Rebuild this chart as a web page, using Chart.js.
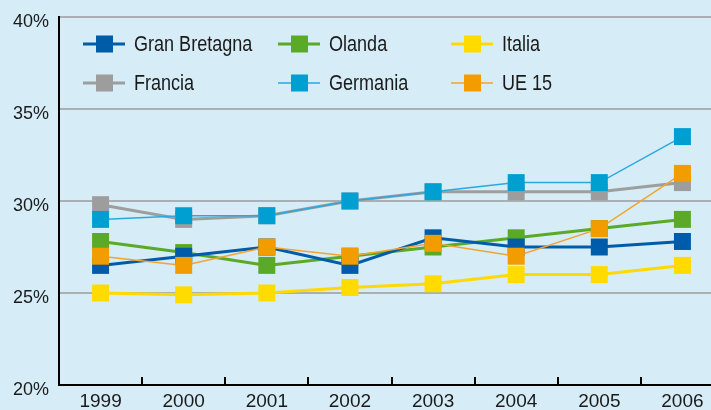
<!DOCTYPE html>
<html>
<head>
<meta charset="utf-8">
<script src="https://cdn.jsdelivr.net/npm/chart.js@4"></script>
<style>
  html, body { margin: 0; padding: 0; background: #d6ecf6; overflow: hidden; }
  canvas { display: block; }
</style>
</head>
<body>
<canvas id="chart" width="724" height="410"></canvas>
<script>
// DATA
var years = ['1999', '2000', '2001', '2002', '2003', '2004', '2005', '2006']
var gran_bretagna = [26.5, 27.0, 27.5, 26.5, 28.0, 27.5, 27.5, 27.8]
var olanda = [27.8, 27.2, 26.5, 27.0, 27.5, 28.0, 28.5, 29.0]
var italia = [25.0, 24.9, 25.0, 25.3, 25.5, 26.0, 26.0, 26.5]
var francia = [29.8, 29.0, 29.2, 30.0, 30.5, 30.5, 30.5, 31.0]
var germania = [29.0, 29.2, 29.2, 30.0, 30.5, 31.0, 31.0, 33.5]
var ue15 = [27.0, 26.5, 27.5, 27.0, 27.7, 27.0, 28.5, 31.5]
var y_min = 20
var y_max = 40
var y_step = 5

var sans = "'Liberation Sans', Arial, sans-serif"

function series(label, data, line, fill, width, order) {
  return {
    label: label,
    data: data,
    borderColor: line,
    backgroundColor: fill,
    borderWidth: width,
    pointStyle: 'rect',
    pointRadius: 12,
    pointHoverRadius: 12,
    pointBorderWidth: 0,
    pointBackgroundColor: fill,
    tension: 0,
    order: order
  }
}

// legend slots: [column x, row y]
var legend_slots = {
  'Gran Bretagna': [83, 44], 'Olanda': [278, 44], 'Italia': [451, 44],
  'Francia': [83, 83], 'Germania': [278, 83], 'UE 15': [451, 83]
}

var legendPlugin = {
  id: 'boxLegend',
  afterDraw: function (chart) {
    var ctx = chart.ctx
    chart.data.datasets.forEach(function (ds) {
      var pos = legend_slots[ds.label]
      var x = pos[0], y = pos[1]
      ctx.save()
      ctx.strokeStyle = ds.borderColor
      ctx.lineWidth = ds.borderWidth
      ctx.beginPath()
      ctx.moveTo(x, y)
      ctx.lineTo(x + 42, y)
      ctx.stroke()
      ctx.fillStyle = ds.backgroundColor
      ctx.fillRect(x + 13, y - 8.5, 17, 17)
      // condensed look: squeeze the text horizontally
      ctx.translate(x + 51, y + 1)
      ctx.scale(0.82, 1)
      ctx.fillStyle = '#1a1a1a'
      ctx.font = '22px ' + sans
      ctx.textBaseline = 'middle'
      ctx.textAlign = 'left'
      ctx.fillText(ds.label, 0, 0)
      ctx.restore()
    })
  }
}

// small tick marks between the years, pointing up into the plot
var tickPlugin = {
  id: 'innerTicks',
  afterDraw: function (chart) {
    var xs = chart.scales.x
    var ctx = chart.ctx
    var bottom = chart.chartArea.bottom
    ctx.save()
    ctx.strokeStyle = '#000'
    ctx.lineWidth = 2
    for (var i = 0; i < years.length - 1; i++) {
      var px = Math.round((xs.getPixelForValue(i) + xs.getPixelForValue(i + 1)) / 2)
      ctx.beginPath()
      ctx.moveTo(px, bottom)
      ctx.lineTo(px, bottom - 8)
      ctx.stroke()
    }
    ctx.restore()
  }
}

var chart = new Chart(document.getElementById('chart'), {
  type: 'line',
  data: {
    labels: years,
    datasets: [
      series('Gran Bretagna', gran_bretagna, '#005ca8', '#005ca8', 3, 2),
      series('Olanda', olanda, '#5aaa28', '#5aaa28', 3, 3),
      series('Italia', italia, '#ffd900', '#ffdb00', 3, 5),
      series('Francia', francia, '#9e9e9e', '#9d9d9d', 3, 4),
      series('Germania', germania, '#2aa9dd', '#009fd2', 1.5, 1),
      series('UE 15', ue15, '#f2a430', '#f39c00', 1.5, 0)
    ]
  },
  options: {
    responsive: false,
    animation: false,
    devicePixelRatio: 1,
    layout: { autoPadding: false, padding: { top: 17, right: 0, bottom: 0, left: 0 } },
    plugins: { legend: { display: false }, tooltip: { enabled: false } },
    scales: {
      x: {
        offset: true,
        grid: { display: false },
        border: { display: true, color: '#000', width: 2 },
        ticks: { color: '#1a1a1a', font: { family: sans, size: 19 }, padding: -3, maxRotation: 0, autoSkip: false },
        afterFit: function (scale) {
          scale.height = 25
          scale.paddingLeft = 0
          scale.paddingRight = 0
        }
      },
      y: {
        min: y_min,
        max: y_max,
        grid: { color: '#a9b0b4', lineWidth: 2, drawTicks: false },
        border: { display: true, color: '#000', width: 2 },
        ticks: {
          stepSize: y_step,
          color: '#1a1a1a',
          font: { family: sans, size: 18 },
          padding: 10,
          labelOffset: 5,
          callback: function (v) { return v + '%' }
        },
        afterFit: function (scale) {
          scale.width = 59
          scale.paddingTop = 0
          scale.paddingBottom = 0
        }
      }
    }
  },
  plugins: [legendPlugin, tickPlugin]
})
</script>
</body>
</html>
